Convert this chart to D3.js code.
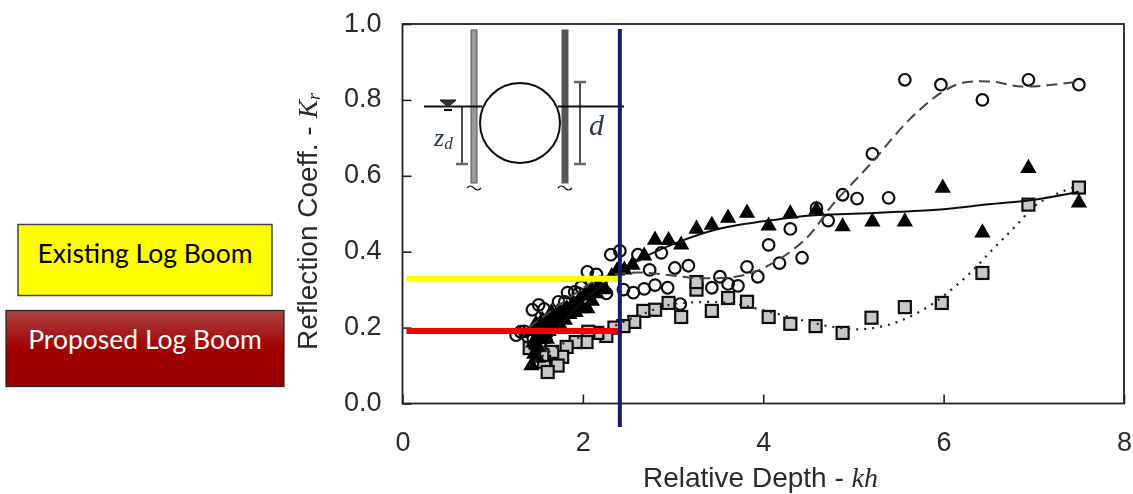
<!DOCTYPE html>
<html>
<head>
<meta charset="utf-8">
<script src="https://cdn.jsdelivr.net/npm/d3@7"></script>
<style>
  html, body { margin: 0; padding: 0; background: #fff; overflow: hidden; }
</style>
</head>
<body>
<svg id="chart" width="1133" height="494" font-family="Liberation Sans" fill="#2b2b2b"></svg>
<script>
// values: [kh, Kr]
var circles = [[5.57,.853],[5.97,.84],[6.43,.80],[6.94,.853],[7.5,.84],[5.21,.658],[4.88,.55],[5.04,.54],[5.39,.542],
  [4.59,.515],[4.72,.482],[4.43,.384],[4.30,.46],[4.06,.418],[4.18,.37],[3.94,.334],[3.82,.36],[3.72,.31],[3.61,.315],
  [3.52,.334],[3.43,.305],[3.17,.363],[3.02,.357],[2.94,.305],[2.80,.312],[2.68,.302],[2.56,.292],[2.45,.30],[2.74,.352],
  [2.87,.397],[2.61,.392],[3.08,.262],[2.41,.402],[2.31,.392],[2.05,.347],[2.15,.34],[2.26,.29],[1.98,.307],[1.83,.292],
  [1.91,.294],[1.73,.268],[1.80,.268],[1.51,.26],[1.44,.247],[1.57,.249],[1.31,.189],[1.26,.18],[1.39,.176],
  [1.67,.23],[1.95,.29],[2.1,.32],[2.2,.32],[1.62,.21],[1.5,.2],[1.45,.17],[1.35,.19]];
var triangles = [[5.99,.568],[6.94,.62],[7.5,.529],[6.43,.45],[5.21,.479],[5.57,.479],[4.88,.466],[4.59,.51],[4.30,.50],
  [4.06,.468],[3.82,.502],[3.61,.489],[3.43,.47],[3.26,.46],[3.09,.418],[2.95,.43],[2.80,.431],[2.68,.389],[2.55,.365],
  [2.46,.352],[1.43,.10],[1.46,.13],[1.48,.155],[1.50,.18],[1.53,.19],[1.56,.205],[1.60,.215],[1.64,.20],[1.68,.225],
  [1.72,.24],[1.76,.235],[1.82,.25],[1.88,.26],[1.95,.27],[2.02,.285],[2.1,.30],[2.05,.25],[2.18,.31],[2.25,.30],
  [2.32,.335],[2.38,.35],[1.5,.12],[1.55,.17],[1.62,.19],[1.7,.2],
  [1.45,.16],[1.5,.15],[1.58,.18],[1.66,.22],[1.74,.21],[1.8,.22],[1.85,.235],[1.92,.24],[1.99,.25],[2.1,.27],[2.15,.29],
  [1.6,.17],[1.55,.22],[1.65,.24],[1.45,.19],[1.48,.21]];
var squares = [[7.5,.569],[6.94,.524],[6.43,.344],[5.98,.265],[5.57,.254],[5.20,.226],[4.88,.186],[4.58,.204],[4.30,.21],
  [4.06,.228],[3.82,.268],[3.61,.278],[3.43,.244],[3.26,.30],[3.26,.32],[3.09,.228],[2.95,.265],[2.80,.247],[2.67,.244],
  [2.57,.215],[2.45,.204],[2.35,.2],[2.26,.178],[2.16,.186],[2.06,.189],[2.04,.162],[1.92,.162],[1.82,.149],[1.77,.123],
  [1.66,.136],[1.72,.10],[1.57,.11],[1.61,.083],[1.55,.128],[1.41,.146],[1.52,.154]];
var solidFit = [[1.43,.10],[1.8,.22],[2.2,.31],[2.6,.375],[3.0,.42],[3.5,.46],[4.0,.48],[4.5,.495],[5,.5],[5.5,.505],[6,.512],[6.5,.525],[7,.537],[7.5,.558]];
var dashFit = [[1.4,.2],[1.8,.27],[2.2,.33],[2.6,.345],[3,.337],[3.33,.33],[3.74,.336],[4.07,.365],[4.48,.436],[4.77,.524],[5.2,.634],[5.62,.748],[5.98,.82],[6.21,.845],[6.54,.848],[6.87,.835],[7.5,.848]];
var dotFit = [[1.4,.1],[1.8,.16],[2.2,.19],[2.6,.23],[2.96,.26],[3.27,.267],[3.62,.265],[3.98,.247],[4.42,.22],[4.77,.202],[5.12,.196],[5.49,.215],[5.86,.26],[6.25,.334],[6.54,.405],[6.78,.463],[7.06,.529],[7.5,.575]];
var xTicks = [0, 2, 4, 6, 8];
var yTicks = [0, .2, .4, .6, .8, 1];
var existingKr = 0.329;
var proposedKr = 0.191;
var markKh = 2.41;

var svg = d3.select("#chart");
var x = d3.scaleLinear().domain([0, 8]).range([402.5, 1124]);
var y = d3.scaleLinear().domain([0, 1]).range([403.5, 24]);

var defs = svg.append("defs");
defs.append("filter").attr("id", "soft")
    .append("feGaussianBlur").attr("stdDeviation", 0.55);
var grad = defs.append("linearGradient").attr("id", "redBox")
    .attr("x1", 0).attr("y1", 0).attr("x2", 0).attr("y2", 1);
grad.append("stop").attr("offset", "0%").attr("stop-color", "#ab4444");
grad.append("stop").attr("offset", "50%").attr("stop-color", "#a00000");
grad.append("stop").attr("offset", "100%").attr("stop-color", "#980000");

var plot = svg.append("g").attr("filter", "url(#soft)");

// axes
var xAxis = d3.axisBottom(x).tickValues(xTicks).tickSize(-9).tickPadding(28).tickFormat(d3.format("d"));
var yAxis = d3.axisLeft(y).tickValues(yTicks).tickSize(-9).tickPadding(21).tickFormat(d3.format(".1f"));
plot.append("g").attr("transform", "translate(0,403.5)").call(xAxis)
    .call(g => g.select(".domain").remove());
plot.append("g").attr("transform", "translate(402.5,0)").call(yAxis)
    .call(g => g.select(".domain").remove())
    .call(g => g.selectAll("text").attr("dy", ".26em"));
plot.selectAll(".tick line").attr("stroke", "#222").attr("stroke-width", 1.6);
plot.selectAll(".tick text").attr("font-size", 27).attr("font-family", "Liberation Sans")
    .attr("fill", "#2b2b2b");

plot.append("rect")
    .attr("x", x(0)).attr("y", y(1))
    .attr("width", x(8) - x(0)).attr("height", y(0) - y(1))
    .attr("fill", "none").attr("stroke", "#222").attr("stroke-width", 1.8);

// axis titles
var xTitle = plot.append("text").attr("x", 643).attr("y", 487).attr("font-size", 28);
xTitle.append("tspan").text("Relative Depth - ");
xTitle.append("tspan").attr("font-family", "Liberation Serif").attr("font-style", "italic").text("kh");

var yTitle = plot.append("text").attr("transform", "translate(317,350) rotate(-90)").attr("font-size", 28);
yTitle.append("tspan").text("Reflection Coeff. - ");
yTitle.append("tspan").attr("font-family", "Liberation Serif").attr("font-style", "italic").text("K");
yTitle.append("tspan").attr("font-family", "Liberation Serif").attr("font-style", "italic")
    .attr("font-size", 18).attr("dy", 3).text("r");

// markers
var tri = d3.symbol().type(d3.symbolTriangle).size(115);
plot.append("g").selectAll("rect").data(squares).enter().append("rect")
    .attr("x", d => x(d[0]) - 6).attr("y", d => y(d[1]) - 6)
    .attr("width", 12).attr("height", 12)
    .attr("fill", "#c8c8c8").attr("stroke", "#111").attr("stroke-width", 2.2);
plot.append("g").selectAll("circle").data(circles).enter().append("circle")
    .attr("cx", d => x(d[0])).attr("cy", d => y(d[1])).attr("r", 5.8)
    .attr("fill", "none").attr("stroke", "#111").attr("stroke-width", 2.2);
plot.append("g").selectAll("path").data(triangles).enter().append("path")
    .attr("d", tri)
    .attr("transform", d => `translate(${x(d[0])},${y(d[1])})`)
    .attr("fill", "#000");

// fitted curves
var line = d3.line().x(d => x(d[0])).y(d => y(d[1])).curve(d3.curveCatmullRom);
plot.append("path").datum(solidFit).attr("d", line)
    .attr("fill", "none").attr("stroke", "#111").attr("stroke-width", 2);
plot.append("path").datum(dashFit).attr("d", line)
    .attr("fill", "none").attr("stroke", "#444").attr("stroke-width", 2).attr("stroke-dasharray", "11,6");
plot.append("path").datum(dotFit).attr("d", line)
    .attr("fill", "none").attr("stroke", "#222").attr("stroke-width", 2.2).attr("stroke-dasharray", "2,6");

// boom sketch inset
var inset = plot.append("g").attr("fill", "none").attr("stroke", "#111");
[474, 565].forEach(function(wx) {
    inset.append("rect").attr("x", wx - 3).attr("y", 30).attr("width", 6).attr("height", 153)
        .attr("fill", wx == 474 ? "#999" : "#555").attr("stroke", "#555").attr("stroke-width", 1);
    inset.append("path").attr("d", `M${wx - 7},188 q3.5,-4 7,0 t7,0`).attr("stroke-width", 1.2);
});
inset.append("line").attr("x1", 424).attr("x2", 482).attr("y1", 106.5).attr("y2", 106.5).attr("stroke-width", 2);
inset.append("line").attr("x1", 558).attr("x2", 624).attr("y1", 106.5).attr("y2", 106.5).attr("stroke-width", 2);
inset.append("circle").attr("cx", 520).attr("cy", 123).attr("r", 40).attr("fill", "#fff").attr("stroke-width", 2);
inset.append("path").attr("d", "M440,100 L456,100 L448,107 Z").attr("fill", "#333");
inset.append("line").attr("x1", 444).attr("x2", 452).attr("y1", 110).attr("y2", 110).attr("stroke-width", 2);
inset.append("line").attr("x1", 462).attr("x2", 462).attr("y1", 107).attr("y2", 164).attr("stroke-width", 1.5);
inset.append("line").attr("x1", 456).attr("x2", 468).attr("y1", 164).attr("y2", 164).attr("stroke", "#666").attr("stroke-width", 2.5);
inset.append("line").attr("x1", 580).attr("x2", 580).attr("y1", 82).attr("y2", 164).attr("stroke-width", 1.5);
inset.append("line").attr("x1", 574).attr("x2", 586).attr("y1", 82).attr("y2", 82).attr("stroke", "#666").attr("stroke-width", 2.5);
inset.append("line").attr("x1", 574).attr("x2", 586).attr("y1", 164).attr("y2", 164).attr("stroke", "#666").attr("stroke-width", 2.5);
var zd = plot.append("text").attr("x", 434).attr("y", 146)
    .attr("font-family", "Liberation Serif").attr("font-style", "italic").attr("font-size", 26).attr("fill", "#2a3550");
zd.append("tspan").text("z");
zd.append("tspan").attr("font-size", 17).attr("dy", 3).text("d");
plot.append("text").attr("x", 589).attr("y", 135)
    .attr("font-family", "Liberation Serif").attr("font-style", "italic").attr("font-size", 30).attr("fill", "#2a3550").text("d");

// overlays drawn on top of the scanned plot
svg.append("line").attr("x1", x(0) + 4).attr("x2", x(markKh))
    .attr("y1", y(existingKr)).attr("y2", y(existingKr))
    .attr("stroke", "#ffff00").attr("stroke-width", 6);
svg.append("line").attr("x1", x(0) + 4).attr("x2", x(markKh))
    .attr("y1", y(proposedKr)).attr("y2", y(proposedKr))
    .attr("stroke", "#f00000").attr("stroke-width", 6);
svg.append("line").attr("x1", x(markKh)).attr("x2", x(markKh))
    .attr("y1", 29).attr("y2", 427)
    .attr("stroke", "#1b1b62").attr("stroke-width", 4);

// legend boxes
svg.append("rect").attr("x", 18).attr("y", 224.5).attr("width", 254).attr("height", 71)
    .attr("fill", "#ffff00").attr("stroke", "#444").attr("stroke-width", 1.5);
svg.append("text").attr("x", 145).attr("y", 263).attr("text-anchor", "middle")
    .attr("font-family", "Lato").attr("font-size", 26.5).attr("fill", "#000").text("Existing Log Boom");
svg.append("rect").attr("x", 6).attr("y", 310.5).attr("width", 278).attr("height", 76)
    .attr("fill", "url(#redBox)").attr("stroke", "#222").attr("stroke-width", 1.2);
svg.append("text").attr("x", 145).attr("y", 349).attr("text-anchor", "middle")
    .attr("font-family", "Lato").attr("font-size", 26.5).attr("fill", "#fff").text("Proposed Log Boom");
</script>
</body>
</html>
